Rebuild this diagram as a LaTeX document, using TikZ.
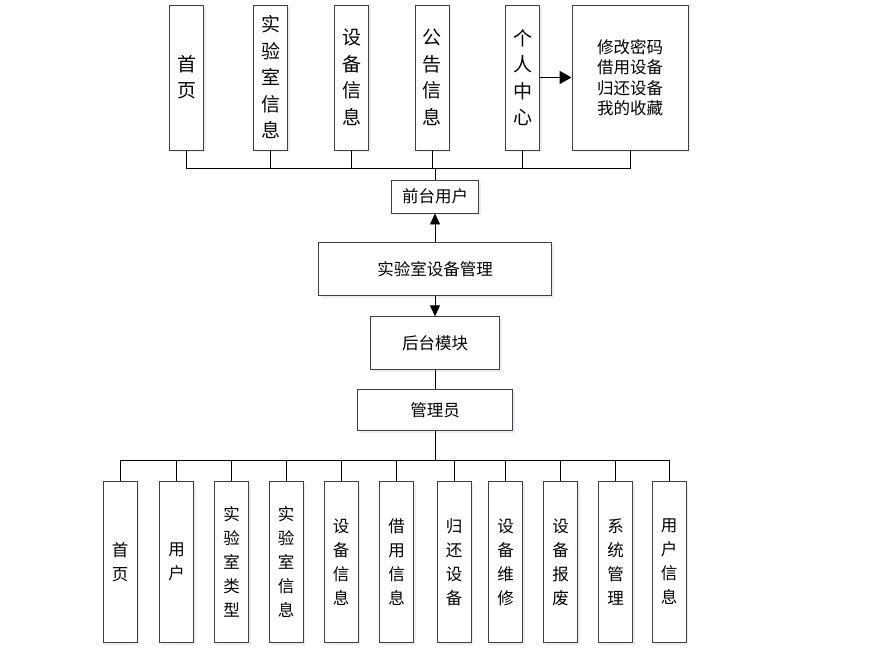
\documentclass[tikz,border=0pt]{standalone}
\usepackage{fontspec}
\setmainfont{Noto Sans CJK SC}
\usepackage{tikz}
\usetikzlibrary{arrows.meta,positioning,shadows}
\definecolor{boxLine}{RGB}{64,64,64}
\definecolor{boxShade}{RGB}{215,222,234}

\begin{document}
\begin{tikzpicture}[
    x=1pt, y=-1pt,
    box/.style={
        rectangle,
        draw=boxLine,
        fill=white,
        line width=0.9pt,
        inner sep=0pt,
        align=center,
        drop shadow={shadow xshift=2pt, shadow yshift=-2pt, fill=boxShade}
    },
    topItem/.style={box, minimum width=34pt, minimum height=145pt,
        font=\fontsize{19}{26.5}\selectfont},
    subItem/.style={box, minimum width=34pt, minimum height=161pt,
        font=\fontsize{16.5}{24}\selectfont},
    midBox/.style={box, font=\fontsize{16.5}{20.5}\selectfont},
    link/.style={draw=black, line width=0.9pt},
    arrow/.style={-{Triangle[length=11pt,width=10pt]}, draw=black, line width=0.9pt}
]
    \useasboundingbox (0,0) rectangle (880,653);

    % front end pages
    \node[topItem] (home) at (186.5,77.5) {首\\页};
    \node[topItem] (labInfo) at (270.5,77.5) {实\\验\\室\\信\\息};
    \node[topItem] (devInfo) at (351.5,77.5) {设\\备\\信\\息};
    \node[topItem] (notice) at (432,77.5) {公\\告\\信\\息};
    \node[topItem] (personal) at (522.5,77.5) {个\\人\\中\\心};
    \node[midBox, minimum width=116pt, minimum height=145pt] (personalMenu) at (630,77.5)
        {修改密码\\借用设备\\归还设备\\我的收藏};

    % middle column
    \node[midBox, minimum width=87pt, minimum height=33pt] (frontUser) at (435,196.5) {前台用户};
    \node[midBox, minimum width=233pt, minimum height=53pt, below=29pt of frontUser] (labMgmt) {实验室设备管理};
    \node[midBox, minimum width=129pt, minimum height=53pt, below=20pt of labMgmt] (backend) {后台模块};
    \node[midBox, minimum width=155pt, minimum height=41pt, below=19pt of backend] (admin) {管理员};

    % back end pages
    \node[subItem] (bHome) at (120,562) {首\\页};
    \node[subItem] (bUser) at (176.5,562) {用\\户};
    \node[subItem] (bLabType) at (231.5,562) {实\\验\\室\\类\\型};
    \node[subItem] (bLabInfo) at (286,562) {实\\验\\室\\信\\息};
    \node[subItem] (bDevInfo) at (341,562) {设\\备\\信\\息};
    \node[subItem] (bBorrow) at (396.5,562) {借\\用\\信\\息};
    \node[subItem] (bReturn) at (454,562) {归\\还\\设\\备};
    \node[subItem] (bRepair) at (505.5,562) {设\\备\\维\\修};
    \node[subItem] (bScrap) at (560.5,562) {设\\备\\报\\废};
    \node[subItem] (bSystem) at (615.5,562) {系\\统\\管\\理};
    \node[subItem] (bUserInfo) at (669,562) {用\\户\\信\\息};

    % upper tree
    \draw[link] (home.south) -- ++(0,18) -| (frontUser.north);
    \draw[link] (labInfo.south) -- ++(0,18) -| (frontUser.north);
    \draw[link] (devInfo.south) -- ++(0,18) -| (frontUser.north);
    \draw[link] (notice.south) -- ++(0,18) -| (frontUser.north);
    \draw[link] (personal.south) -- ++(0,18) -| (frontUser.north);
    \draw[link] (personalMenu.south) -- ++(0,18) -| (frontUser.north);
    \draw[-{Triangle[length=12pt,width=13pt]}, line width=1.8pt] (personal) -- (personalMenu);

    % middle chain
    \draw[arrow] (labMgmt.north) -- (frontUser.south);
    \draw[arrow] (labMgmt.south) -- (backend.north);
    \draw[link] (backend) -- (admin);

    % lower tree
    \draw[link] (admin.south) -- ++(0,29) -| (bHome.north);
    \draw[link] (admin.south) -- ++(0,29) -| (bUser.north);
    \draw[link] (admin.south) -- ++(0,29) -| (bLabType.north);
    \draw[link] (admin.south) -- ++(0,29) -| (bLabInfo.north);
    \draw[link] (admin.south) -- ++(0,29) -| (bDevInfo.north);
    \draw[link] (admin.south) -- ++(0,29) -| (bBorrow.north);
    \draw[link] (admin.south) -- ++(0,29) -| (bReturn.north);
    \draw[link] (admin.south) -- ++(0,29) -| (bRepair.north);
    \draw[link] (admin.south) -- ++(0,29) -| (bScrap.north);
    \draw[link] (admin.south) -- ++(0,29) -| (bSystem.north);
    \draw[link] (admin.south) -- ++(0,29) -| (bUserInfo.north);
\end{tikzpicture}
\end{document}
